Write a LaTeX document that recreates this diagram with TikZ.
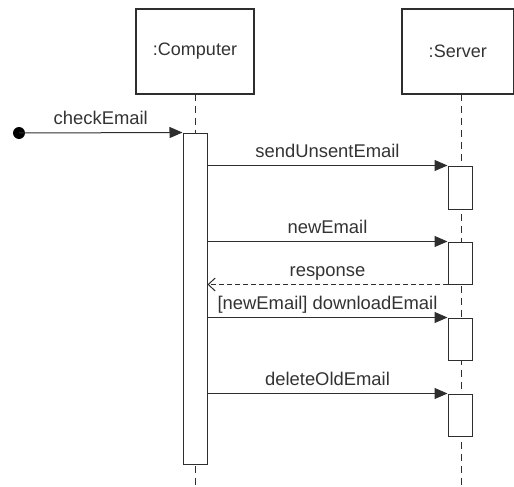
\documentclass[tikz,border=0pt]{standalone}
\usepackage{fontspec}
\setmainfont{Liberation Sans}
\usetikzlibrary{arrows.meta}
\definecolor{ln}{HTML}{2E2E2E}
\definecolor{tx}{HTML}{333333}
\begin{document}
\begin{tikzpicture}[x=1pt,y=-1pt,
  obj/.style={draw=ln, line width=1.3pt, minimum height=85pt, inner sep=0pt,
    font=\fontsize{18}{20}\selectfont, text=tx},
  act/.style={draw=ln, fill=white, minimum width=24pt, inner sep=0pt, line width=1pt},
  life/.style={draw=ln, dash pattern=on 7pt off 5pt, line width=1pt},
  msg/.style={draw=ln, line width=1pt, -{Triangle[length=13pt,width=11pt]}},
  ret/.style={draw=ln, line width=1pt, dash pattern=on 5pt off 3pt, -{Straight Barb[length=7pt,width=13pt]}},
  lbl/.style={midway, anchor=base, yshift=8pt, inner sep=0pt,
    font=\fontsize{18.4}{20}\selectfont, text=tx}]
\useasboundingbox (0,0) rectangle (514,487);
% objects
\node[obj, minimum width=118pt] (comp) at (195,51.5) {:Computer};
\node[obj, minimum width=111.5pt] (serv) at (457.75,51.5) {:Server};
% lifelines
\coordinate (cl0) at (195,94);
\coordinate (cl1) at (195,487);
\coordinate (sl0) at (461,94);
\coordinate (sl1) at (461,487);
\draw[life] (cl0) -- (cl1);
\draw[life] (sl0) -- (sl1);
% activation bars
\node[act, minimum height=331pt] (ca) at (195,298.5) {};
\node[act, minimum height=43pt] (s1) at (460,187.5) {};
\node[act, minimum height=42pt] (s2) at (460,263) {};
\node[act, minimum height=42pt] (s3) at (460,339) {};
\node[act, minimum height=42pt] (s4) at (460,415) {};
% start
\node[circle, fill=black, minimum size=12pt, inner sep=0pt] (start) at (19,133) {};
% messages
\draw[msg] (start.center) -- (ca.north west) node[lbl] {checkEmail};
\draw[msg] (ca.east |- s1.north) -- (s1.north west) node[lbl] {sendUnsentEmail};
\draw[msg] (ca.east |- s2.north) -- (s2.north west) node[lbl] {newEmail};
\draw[ret] (s2.south west) -- (ca.east |- s2.south) node[lbl] {response};
\draw[msg] (ca.east |- s3.north) -- (s3.north west) node[lbl] {[newEmail] downloadEmail};
\draw[msg] (ca.east |- s4.north) -- (s4.north west) node[lbl] {deleteOldEmail};
\end{tikzpicture}
\end{document}
